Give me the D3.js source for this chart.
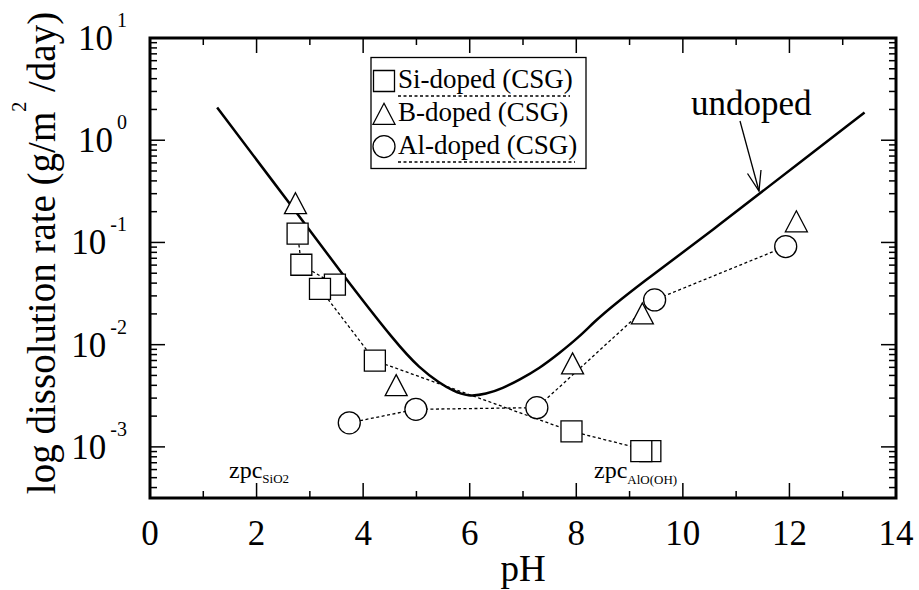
<!DOCTYPE html>
<html>
<head>
<meta charset="utf-8">
<script src="https://cdn.jsdelivr.net/npm/d3@7/dist/d3.min.js"></script>
<style>
body { margin: 0; background: #fff; }
text { font-family: "Liberation Serif", "Times New Roman", serif; fill: #000; }
</style>
</head>
<body>
<svg id="chart" width="919" height="590"></svg>
<script>

// undoped curve
var undopedPH = [1.26, 2.62, 3.62, 4.62, 5.06, 5.44, 5.68, 5.97, 6.31, 6.62, 6.93, 7.31, 7.68, 8.06, 8.34, 8.68, 9.31, 9.93, 10.68, 11.40, 13.41]
var undopedRate = [2.09, 0.241, 0.048, 0.0103, 0.00588, 0.00419, 0.00355, 0.0031, 0.00328, 0.00375, 0.00452, 0.00588, 0.00824, 0.012, 0.0168, 0.0239, 0.0432, 0.0751, 0.148, 0.290, 1.87]

// Si-doped (CSG), in the order the dotted line joins them
var siPH = [2.77, 2.84, 3.47, 3.19, 4.22, 7.91, 9.39, 9.22]
var siRate = [0.122, 0.0605, 0.0386, 0.0352, 0.00698, 0.00142, 0.00091, 0.00091]

// B-doped (CSG), no line
var bPH = [2.73, 4.62, 7.93, 9.24, 12.13]
var bRate = [0.242, 0.00402, 0.00656, 0.0202, 0.161]

// Al-doped (CSG)
var alPH = [3.74, 4.99, 7.26, 9.47, 11.93]
var alRate = [0.00172, 0.00233, 0.00242, 0.0274, 0.0912]

var xMajor = [0, 2, 4, 6, 8, 10, 12, 14]
var xMinor = [1, 3, 5, 7, 9, 11, 13]
var yExponents = [-3, -2, -1, 0, 1]

var legendNames = ['Si-doped (CSG)', 'B-doped (CSG)', 'Al-doped (CSG)']


var svg = d3.select('#chart')

// (window.top is reserved, so plot edges get their own names)
var pLeft = 150, pRight = 896, pTop = 38, pBottom = 498

var x = d3.scaleLinear().domain([0, 14]).range([pLeft, pRight])
var y = d3.scaleLog().domain([Math.pow(10, -3.5), 10]).range([pBottom, pTop])

// minor log ticks 2..9 inside the domain
var yMinor = []
for (i = -4; i <= 0; i++) {
	for (k = 2; k <= 9; k++) {
		var v = k * Math.pow(10, i)
		if (v >= y.domain()[0] && v <= 10) yMinor.push(v)
	}
}
var yMajor = yExponents.map(function(e) { return Math.pow(10, e) })

// ticks on all four sides, pointing in
var ticks = svg.append('g').attr('stroke', '#000').attr('stroke-width', 1.5)

ticks.selectAll('.xb').data(xMajor.concat(xMinor)).enter().append('line')
	.attr('x1', function(d) { return x(d) }).attr('x2', function(d) { return x(d) })
	.attr('y1', pBottom).attr('y2', function(d) { return pBottom - (d % 2 == 0 ? 15 : 7) })
ticks.selectAll('.xt').data(xMajor.concat(xMinor)).enter().append('line')
	.attr('x1', function(d) { return x(d) }).attr('x2', function(d) { return x(d) })
	.attr('y1', pTop).attr('y2', function(d) { return pTop + (d % 2 == 0 ? 15 : 7) })

ticks.selectAll('.yl').data(yMajor.concat(yMinor)).enter().append('line')
	.attr('y1', function(d) { return y(d) }).attr('y2', function(d) { return y(d) })
	.attr('x1', pLeft).attr('x2', function(d, i) { return pLeft + (i < yMajor.length ? 15 : 7) })
ticks.selectAll('.yr').data(yMajor.concat(yMinor)).enter().append('line')
	.attr('y1', function(d) { return y(d) }).attr('y2', function(d) { return y(d) })
	.attr('x1', pRight).attr('x2', function(d, i) { return pRight - (i < yMajor.length ? 15 : 7) })

// frame
svg.append('rect')
	.attr('x', pLeft).attr('y', pTop)
	.attr('width', pRight - pLeft).attr('height', pBottom - pTop)
	.attr('fill', 'none').attr('stroke', '#000').attr('stroke-width', 3)

// x tick labels
svg.selectAll('.xlab').data(xMajor).enter().append('text')
	.attr('x', function(d) { return x(d) })
	.attr('y', 545)
	.attr('text-anchor', 'middle')
	.attr('font-size', 35)
	.text(function(d) { return d })

// y tick labels, 10 with superscript exponent
var ylab = svg.selectAll('.ylab').data(yExponents).enter().append('text')
	.attr('x', 127)
	.attr('y', function(d) { return y(Math.pow(10, d)) + 12 })
	.attr('text-anchor', 'end')
	.attr('font-size', 35)
ylab.append('tspan').text('10')
ylab.append('tspan').attr('dx', 4).attr('dy', -23).attr('font-size', 20).text(function(d) { return d })

// axis titles
svg.append('text')
	.attr('x', x(7)).attr('y', 581)
	.attr('text-anchor', 'middle')
	.attr('font-size', 37)
	.text('pH')

var ytitle = svg.append('text')
	.attr('transform', 'translate(55,253) rotate(-90)')
	.attr('text-anchor', 'middle')
	.attr('font-size', 39)
ytitle.append('tspan').text('log dissolution rate (g/m')
ytitle.append('tspan').attr('dy', -29).attr('font-size', 20).text('2')
ytitle.append('tspan').attr('dy', 29).text(' /day)')

// undoped curve, smoothed through the read points
var curve = d3.line()
	.x(function(d) { return x(d[0]) })
	.y(function(d) { return y(d[1]) })
	.curve(d3.curveBasis)

svg.append('path')
	.datum(d3.zip(undopedPH, undopedRate))
	.attr('d', curve)
	.attr('fill', 'none').attr('stroke', '#000').attr('stroke-width', 2.5)

// dotted connecting lines
var dotted = d3.line()
	.x(function(d) { return x(d[0]) })
	.y(function(d) { return y(d[1]) })

svg.append('path')
	.datum(d3.zip(siPH, siRate))
	.attr('d', dotted)
	.attr('fill', 'none').attr('stroke', '#000').attr('stroke-width', 1.3).attr('stroke-dasharray', '3,2.5')
svg.append('path')
	.datum(d3.zip(alPH, alRate))
	.attr('d', dotted)
	.attr('fill', 'none').attr('stroke', '#000').attr('stroke-width', 1.3).attr('stroke-dasharray', '3,2.5')

// symbols
var sq = d3.symbol().type(d3.symbolSquare).size(21 * 21)
var tri = 'M0,-10.5L11,10.5L-11,10.5Z'

function markers(ph, rate, shape) {
	var g = svg.append('g')
	var sel = g.selectAll('path').data(d3.zip(ph, rate)).enter()
	if (shape == 'circle') {
		sel.append('circle')
			.attr('cx', function(d) { return x(d[0]) })
			.attr('cy', function(d) { return y(d[1]) })
			.attr('r', 11)
			.attr('fill', '#fff').attr('stroke', '#000').attr('stroke-width', 1.3)
	} else {
		sel.append('path')
			.attr('d', shape == 'square' ? sq() : tri)
			.attr('transform', function(d) { return 'translate(' + x(d[0]) + ',' + y(d[1]) + ')' })
			.attr('fill', '#fff').attr('stroke', '#000').attr('stroke-width', 1.3)
	}
}
markers(siPH, siRate, 'square')
markers(bPH, bRate, 'triangle')
markers(alPH, alRate, 'circle')

// undoped label + arrow
svg.append('text')
	.attr('x', 691).attr('y', 115)
	.attr('font-size', 35)
	.text('undoped')
svg.append('line')
	.attr('x1', 740).attr('y1', 121).attr('x2', 759).attr('y2', 191)
	.attr('stroke', '#000').attr('stroke-width', 1.3)
svg.append('path')
	.attr('d', 'M747.5,173.5L759,191L761,170')
	.attr('fill', 'none').attr('stroke', '#000').attr('stroke-width', 1.3)

// zpc labels
var zpc1 = svg.append('text').attr('x', 229).attr('y', 478).attr('font-size', 24)
zpc1.append('tspan').text('zpc')
zpc1.append('tspan').attr('dy', 5).attr('font-size', 13).text('SiO2')
var zpc2 = svg.append('text').attr('x', 594).attr('y', 478).attr('font-size', 24)
zpc2.append('tspan').text('zpc')
zpc2.append('tspan').attr('dy', 6).attr('font-size', 13).text('AlO(OH)')

// legend
var lg = svg.append('g')
lg.append('rect')
	.attr('x', 371).attr('y', 57.5).attr('width', 215).attr('height', 111)
	.attr('fill', '#fff').attr('stroke', '#000').attr('stroke-width', 1.3)

var rowY = [81, 113.8, 146.6]
lg.append('path').attr('d', sq()).attr('transform', 'translate(384,' + rowY[0] + ')')
	.attr('fill', '#fff').attr('stroke', '#000').attr('stroke-width', 1.3)
lg.append('path').attr('d', tri).attr('transform', 'translate(384,' + rowY[1] + ')')
	.attr('fill', '#fff').attr('stroke', '#000').attr('stroke-width', 1.3)
lg.append('circle').attr('cx', 384).attr('cy', rowY[2]).attr('r', 11)
	.attr('fill', '#fff').attr('stroke', '#000').attr('stroke-width', 1.3)

lg.selectAll('.lt').data(legendNames).enter().append('text')
	.attr('x', 398)
	.attr('y', function(d, i) { return rowY[i] + 7 })
	.attr('font-size', 27)
	.text(function(d) { return d })

// dotted samples under the Si and Al entries
lg.append('line').attr('x1', 398).attr('x2', 570).attr('y1', 96).attr('y2', 96)
	.attr('stroke', '#000').attr('stroke-width', 1.3).attr('stroke-dasharray', '3,2.5')
lg.append('line').attr('x1', 398).attr('x2', 575).attr('y1', 162).attr('y2', 162)
	.attr('stroke', '#000').attr('stroke-width', 1.3).attr('stroke-dasharray', '3,2.5')

</script>
</body>
</html>
